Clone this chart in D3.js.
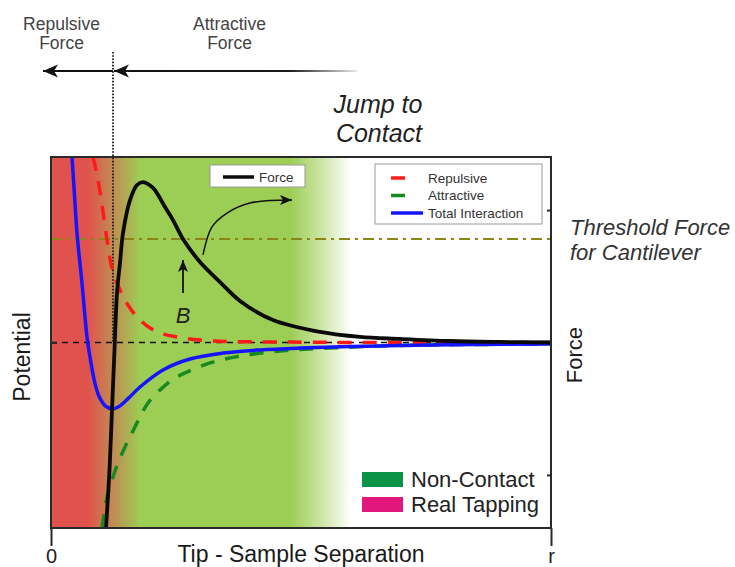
<!DOCTYPE html>
<html>
<head>
<meta charset="utf-8">
<script src="https://cdn.jsdelivr.net/npm/d3@7"></script>
<style>
  html, body { margin: 0; padding: 0; background: #fff; }
  svg { display: block; font-family: "Liberation Sans", Arial, sans-serif; }
</style>
</head>
<body>
<svg id="chart" width="735" height="567"></svg>
<script>
// Tip-sample separation (0 .. r mapped to 0 .. 10) against force / potential (-1 .. 1)
const forceX = [1.10, 1.17, 1.22, 1.27, 1.32, 1.38, 1.44, 1.58, 1.72, 1.84, 2.04, 2.28, 2.44, 2.64, 2.98, 3.38, 3.78, 4.44, 5.38, 6.18, 6.98, 7.98, 8.98, 10];
const forceY = [-1.0, -0.687, -0.364, -0.04, 0.267, 0.43, 0.59, 0.768, 0.849, 0.865, 0.833, 0.73, 0.66, 0.558, 0.434, 0.326, 0.224, 0.121, 0.057, 0.030, 0.019, 0.008, 0.003, 0.0];

const totalX = [0.42, 0.47, 0.52, 0.62, 0.72, 0.78, 0.87, 0.96, 1.08, 1.22, 1.36, 1.55, 1.78, 2.24, 2.78, 3.44, 4.18, 4.98, 5.98, 6.98, 8.48, 10];
const totalY = [1.0, 0.795, 0.59, 0.32, 0.03, -0.078, -0.21, -0.29, -0.34, -0.358, -0.345, -0.30, -0.24, -0.148, -0.089, -0.057, -0.040, -0.030, -0.022, -0.016, -0.011, -0.008];

const repulsiveX = [0.84, 0.92, 1.02, 1.12, 1.22, 1.38, 1.54, 1.78, 2.12, 2.52, 2.98, 3.58, 4.58, 5.98, 10];
const repulsiveY = [1.0, 0.903, 0.741, 0.553, 0.402, 0.283, 0.202, 0.121, 0.057, 0.030, 0.013, 0.005, 0.003, 0.0, 0.0];

const attractiveX = [1.02, 1.12, 1.24, 1.34, 1.48, 1.62, 1.82, 1.94, 2.18, 2.42, 2.68, 3.18, 3.78, 4.58, 5.58, 6.98, 10];
const attractiveY = [-1.0, -0.833, -0.725, -0.65, -0.563, -0.488, -0.38, -0.326, -0.256, -0.202, -0.164, -0.11, -0.073, -0.046, -0.030, -0.016, -0.008];

const thresholdForce = 0.558;
const contactPoint = 1.24;          // separation where the tip jumps to contact
const leftTicks = [0];
const rightTicks = [-0.714, 0.714];
const xTickValues = [0, 10];
const xTickLabels = ["0", "r"];

const seriesNames = ["Repulsive", "Attractive", "Total Interaction"];
const seriesColors = ["#ff1a1a", "#178a1e", "#1414ff"];
const regionNames = ["Non-Contact", "Real Tapping"];
const regionColors = ["#0b9347", "#e0177d"];

const svg = d3.select("#chart");
const plot = { left: 51, right: 551, top: 157, bottom: 528 };

const x = d3.scaleLinear().domain([0, 10]).range([plot.left, plot.right]);
const y = d3.scaleLinear().domain([-1, 1]).range([plot.bottom, plot.top]);

const defs = svg.append("defs");

// background: red contact zone blending into green non-contact zone, fading to white
const bg = defs.append("linearGradient")
  .attr("id", "zoneGrad")
  .attr("gradientUnits", "userSpaceOnUse")
  .attr("x1", plot.left).attr("x2", plot.right).attr("y1", 0).attr("y2", 0);
[[0, "#e0524e"], [0.074, "#e0524e"], [0.13, "#bd9353"], [0.178, "#9ccd54"],
 [0.478, "#9ccd54"], [0.54, "#cbe4a3"], [0.6, "#ffffff"], [1, "#ffffff"]]
  .forEach(([o, c]) => bg.append("stop").attr("offset", o).attr("stop-color", c));

// top attractive arrow fades out to the right
const fade = defs.append("linearGradient")
  .attr("id", "arrowFade")
  .attr("gradientUnits", "userSpaceOnUse")
  .attr("x1", x(contactPoint)).attr("x2", 357).attr("y1", 0).attr("y2", 0);
[[0, "#111"], [0.72, "#1a1a1a"], [1, "#e8e8e8"]]
  .forEach(([o, c]) => fade.append("stop").attr("offset", o).attr("stop-color", c));

defs.append("clipPath").attr("id", "plotClip")
  .append("rect")
  .attr("x", plot.left).attr("y", plot.top)
  .attr("width", plot.right - plot.left).attr("height", plot.bottom - plot.top);

function addHead(id, len, half, notch) {
  defs.append("marker")
    .attr("id", id)
    .attr("markerUnits", "userSpaceOnUse")
    .attr("viewBox", `${-len - 1} ${-half - 1} ${len + 2} ${2 * half + 2}`)
    .attr("markerWidth", len + 2).attr("markerHeight", 2 * half + 2)
    .attr("refX", 0).attr("refY", 0)
    .attr("orient", "auto")
    .append("path")
    .attr("d", `M0,0 L${-len},${-half} L${-len + notch},0 L${-len},${half} Z`)
    .attr("fill", "#111");
}
addHead("headBig", 15, 6.5, 4);
addHead("headSmall", 12, 5, 3);

// plot background
svg.append("rect")
  .attr("x", plot.left).attr("y", plot.top)
  .attr("width", plot.right - plot.left).attr("height", plot.bottom - plot.top)
  .attr("fill", "url(#zoneGrad)");

// zero line
svg.append("line")
  .attr("x1", x(0)).attr("x2", x(10)).attr("y1", y(0)).attr("y2", y(0))
  .attr("stroke", "#111").attr("stroke-width", 1.6)
  .attr("stroke-dasharray", "6,5");

// cantilever threshold force
svg.append("line")
  .attr("x1", x(0)).attr("x2", x(10)).attr("y1", y(thresholdForce)).attr("y2", y(thresholdForce))
  .attr("stroke", "#8a8616").attr("stroke-width", 2)
  .attr("stroke-dasharray", "11,5,3,5");

// contact separation marker
svg.append("line")
  .attr("x1", x(contactPoint)).attr("x2", x(contactPoint))
  .attr("y1", 52).attr("y2", y(0))
  .attr("stroke", "#1a1a1a").attr("stroke-width", 1.8)
  .attr("stroke-dasharray", "1.6,1.6");

const line = d3.line()
  .x(d => x(d[0])).y(d => y(d[1]))
  .curve(d3.curveCatmullRom.alpha(0.5));

const curves = svg.append("g").attr("clip-path", "url(#plotClip)");
const zip = (a, b) => a.map((v, i) => [v, b[i]]);

curves.append("path").datum(zip(repulsiveX, repulsiveY))
  .attr("d", line).attr("fill", "none")
  .attr("stroke", seriesColors[0]).attr("stroke-width", 3.5)
  .attr("stroke-dasharray", "14,11");

curves.append("path").datum(zip(attractiveX, attractiveY))
  .attr("d", line).attr("fill", "none")
  .attr("stroke", seriesColors[1]).attr("stroke-width", 3.5)
  .attr("stroke-dasharray", "14,11");

curves.append("path").datum(zip(totalX, totalY))
  .attr("d", line).attr("fill", "none")
  .attr("stroke", seriesColors[2]).attr("stroke-width", 3.5);

curves.append("path").datum(zip(forceX, forceY))
  .attr("d", line).attr("fill", "none")
  .attr("stroke", "#0a0a0a").attr("stroke-width", 3.8);

// jump-to-contact curved arrow
const jumpArrow = [[3.04, 0.472], [3.22, 0.623], [3.52, 0.698], [3.98, 0.752], [4.82, 0.768]];
svg.append("path").datum(jumpArrow)
  .attr("d", d3.line().x(d => x(d[0])).y(d => y(d[1])).curve(d3.curveCatmullRom))
  .attr("fill", "none").attr("stroke", "#111").attr("stroke-width", 1.5)
  .attr("marker-end", "url(#headSmall)");

// point B
const pointB = 2.64;
svg.append("line")
  .attr("x1", x(pointB)).attr("x2", x(pointB))
  .attr("y1", y(0.267)).attr("y2", y(0.445))
  .attr("stroke", "#111").attr("stroke-width", 1.8)
  .attr("marker-end", "url(#headSmall)");
svg.append("text")
  .attr("x", x(pointB)).attr("y", y(0.105))
  .attr("text-anchor", "middle")
  .attr("font-size", 22).attr("font-style", "italic").attr("fill", "#222")
  .text("B");

// frame
svg.append("rect")
  .attr("x", plot.left).attr("y", plot.top)
  .attr("width", plot.right - plot.left).attr("height", plot.bottom - plot.top)
  .attr("fill", "none").attr("stroke", "#2a2a2a").attr("stroke-width", 2);

// axes
const leftAxis = svg.append("g").attr("transform", `translate(${plot.left},0)`)
  .call(d3.axisLeft(y).tickValues(leftTicks).tickSize(-6).tickFormat(""));
const rightAxis = svg.append("g").attr("transform", `translate(${plot.right},0)`)
  .call(d3.axisRight(y).tickValues(rightTicks).tickSize(-4).tickFormat(""));
const bottomAxis = svg.append("g").attr("transform", `translate(0,${plot.bottom})`)
  .call(d3.axisBottom(x).tickValues(xTickValues).tickSize(18).tickPadding(3)
    .tickFormat((d, i) => xTickLabels[i]));
[leftAxis, rightAxis, bottomAxis].forEach(g => {
  g.select(".domain").remove();
  g.selectAll(".tick line").attr("stroke", "#2a2a2a").attr("stroke-width", 2);
});
bottomAxis.selectAll(".tick text")
  .attr("font-size", 20).attr("fill", "#222")
  .attr("font-family", "Liberation Sans, Arial, sans-serif");

// axis titles
svg.append("text")
  .attr("x", (plot.left + plot.right) / 2).attr("y", 562)
  .attr("text-anchor", "middle").attr("font-size", 23).attr("fill", "#1a1a1a")
  .text("Tip - Sample Separation");
svg.append("text")
  .attr("transform", "translate(30,357) rotate(-90)")
  .attr("text-anchor", "middle").attr("font-size", 23).attr("fill", "#1a1a1a")
  .text("Potential");
svg.append("text")
  .attr("transform", "translate(582,355) rotate(-90)")
  .attr("text-anchor", "middle").attr("font-size", 22).attr("fill", "#1a1a1a")
  .text("Force");

// threshold label
const thr = svg.append("text").attr("font-size", 22).attr("font-style", "italic").attr("fill", "#333");
thr.append("tspan").attr("x", 570).attr("y", 235).text("Threshold Force");
thr.append("tspan").attr("x", 570).attr("y", 260).text("for Cantilever");

// jump to contact label
const jtc = svg.append("text").attr("font-size", 25).attr("font-style", "italic")
  .attr("fill", "#222").attr("text-anchor", "middle");
jtc.append("tspan").attr("x", 378).attr("y", 113).text("Jump to");
jtc.append("tspan").attr("x", 379).attr("y", 142).text("Contact");

// force regime labels and arrows above the plot
[["Repulsive", 61.5], ["Attractive", 229.5]].forEach(([name, cx]) => {
  const t = svg.append("text").attr("font-size", 17.5).attr("fill", "#444")
    .attr("text-anchor", "middle");
  t.append("tspan").attr("x", cx).attr("y", 30).text(name);
  t.append("tspan").attr("x", cx).attr("y", 49).text("Force");
});
svg.append("line")
  .attr("x1", x(contactPoint)).attr("x2", x(-0.16)).attr("y1", 71).attr("y2", 71)
  .attr("stroke", "#111").attr("stroke-width", 2)
  .attr("marker-end", "url(#headBig)");
svg.append("line")
  .attr("x1", 357).attr("x2", x(contactPoint) + 1).attr("y1", 71).attr("y2", 71.001)
  .attr("stroke", "url(#arrowFade)").attr("stroke-width", 2)
  .attr("marker-end", "url(#headBig)");

// series legend
svg.append("rect").attr("x", 375).attr("y", 164).attr("width", 167).attr("height", 60)
  .attr("fill", "#fff").attr("stroke", "#999").attr("stroke-width", 1);
seriesNames.forEach((name, i) => {
  const ly = 178 + i * 17.5;
  const solid = i === 2;
  svg.append("line")
    .attr("x1", 391).attr("x2", solid ? 423 : 405).attr("y1", ly).attr("y2", ly)
    .attr("stroke", seriesColors[i]).attr("stroke-width", 3.5);
  svg.append("text").attr("x", 428).attr("y", ly + 4.5)
    .attr("font-size", 13.5).attr("fill", "#333").text(name);
});

// force legend
svg.append("rect").attr("x", 210).attr("y", 165).attr("width", 95).attr("height", 22)
  .attr("fill", "#fff").attr("stroke", "#999").attr("stroke-width", 1);
svg.append("line").attr("x1", 223).attr("x2", 254).attr("y1", 177).attr("y2", 177)
  .attr("stroke", "#0a0a0a").attr("stroke-width", 3.5);
svg.append("text").attr("x", 259).attr("y", 182)
  .attr("font-size", 13.5).attr("fill", "#333").text("Force");

// region legend
regionNames.forEach((name, i) => {
  const ry = 472 + i * 25;
  svg.append("rect").attr("x", 362).attr("y", ry).attr("width", 41).attr("height", 15)
    .attr("fill", regionColors[i]);
  svg.append("text").attr("x", 411).attr("y", ry + 15)
    .attr("font-size", 22).attr("fill", "#222").text(name);
});
</script>
</body>
</html>
